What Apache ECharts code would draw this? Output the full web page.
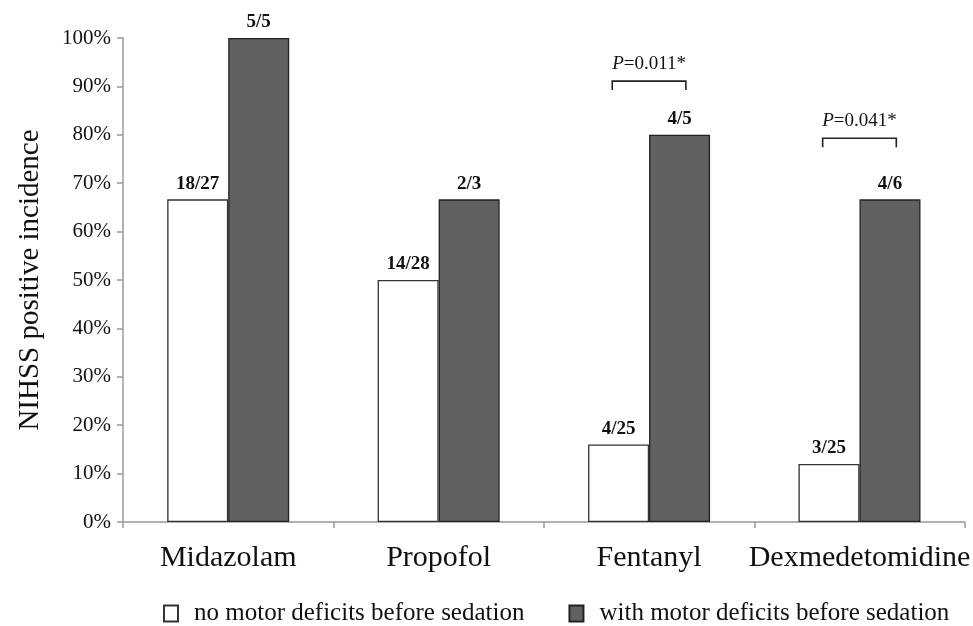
<!DOCTYPE html>
<html>
<head>
<meta charset="utf-8">
<script src="https://cdn.jsdelivr.net/npm/echarts@6/dist/echarts.min.js"></script>
<style>html,body{margin:0;padding:0;background:#fff;}#c{width:973px;height:626px;}</style>
</head>
<body>
<div id="c"></div>
<script>
const categories = ['Midazolam', 'Propofol', 'Fentanyl', 'Dexmedetomidine'];
const noDeficitPositive = [18, 14, 4, 3];
const noDeficitTotal = [27, 28, 25, 25];
const withDeficitPositive = [5, 2, 4, 4];
const withDeficitTotal = [5, 3, 5, 6];
const seriesNames = ['no motor deficits before sedation', 'with motor deficits before sedation'];
const yTicks = [0, 10, 20, 30, 40, 50, 60, 70, 80, 90, 100];
// significance annotations: category, bracket level (%), p-value text
const annCategory = [2, 3];
const annLevel = [91.1, 79.3];
const annText = ['0.011*', '0.041*'];

const FONT = '"Liberation Serif", "Times New Roman", serif';

const noDefVals = noDeficitPositive.map((p, i) => p / noDeficitTotal[i] * 100);
const withDefVals = withDeficitPositive.map((p, i) => p / withDeficitTotal[i] * 100);

const chart = echarts.init(document.getElementById('c'), null, {renderer: 'canvas'});

const labelStyle = {
  show: true, position: 'top', distance: 6,
  fontFamily: FONT, fontWeight: 'bold', fontSize: 19, color: '#111'
};

chart.setOption({
  animation: false,
  backgroundColor: '#fff',
  grid: {left: 123, top: 38, right: 6, bottom: 104, containLabel: false},
  legend: {
    data: seriesNames,
    top: 596, left: 158,
    itemWidth: 14, itemHeight: 16, itemGap: 44,
    icon: 'rect',
    textStyle: {fontFamily: FONT, fontSize: 25, color: '#111', padding: [0, 0, 0, 11]}
  },
  xAxis: {
    type: 'category',
    data: categories,
    axisLine: {lineStyle: {color: '#999', width: 1.5}},
    axisTick: {show: true, alignWithLabel: false, interval: 0, length: 6, lineStyle: {color: '#999', width: 1.5}},
    axisLabel: {fontFamily: FONT, fontSize: 30, color: '#111', margin: 21, interval: 0, hideOverlap: false}
  },
  yAxis: {
    type: 'value', min: 0, max: 100, interval: 10,
    name: 'NIHSS positive incidence',
    nameLocation: 'middle', nameGap: 78,
    nameTextStyle: {fontFamily: FONT, fontSize: 29, color: '#111'},
    axisLine: {show: true, lineStyle: {color: '#999', width: 1.5}},
    axisTick: {show: true, inside: false, length: 6, lineStyle: {color: '#999', width: 1.5}},
    splitLine: {show: false},
    axisLabel: {
      fontFamily: FONT, fontSize: 21, color: '#111', margin: 12,
      formatter: v => yTicks.indexOf(v) >= 0 ? v + '%' : ''
    }
  },
  series: [
    {
      name: seriesNames[0], type: 'bar', data: noDefVals,
      barWidth: 61, barGap: '0%',
      itemStyle: {color: '#ffffff', borderColor: '#333', borderWidth: 1.3},
      label: Object.assign({}, labelStyle, {
        formatter: p => noDeficitPositive[p.dataIndex] + '/' + noDeficitTotal[p.dataIndex]
      })
    },
    {
      name: seriesNames[1], type: 'bar', data: withDefVals,
      barWidth: 61, barGap: '0%',
      itemStyle: {color: '#616161', borderColor: '#222', borderWidth: 1.3},
      label: Object.assign({}, labelStyle, {
        formatter: p => withDeficitPositive[p.dataIndex] + '/' + withDeficitTotal[p.dataIndex]
      })
    },
    {
      name: 'annotations', type: 'custom', silent: true, clip: false, z: 10,
      data: annCategory.map((c, i) => [c, annLevel[i], i]),
      renderItem: function (params, api) {
        const c = api.coord([api.value(0), api.value(1)]);
        const bw = api.size([1, 0])[0];
        const half = bw * 0.175;
        const tick = 9;
        const idx = api.value(2);
        return {
          type: 'group',
          children: [
            {
              type: 'polyline',
              shape: {points: [[c[0] - half, c[1] + tick], [c[0] - half, c[1]], [c[0] + half, c[1]], [c[0] + half, c[1] + tick]]},
              style: {stroke: '#222', lineWidth: 1.6, fill: null}
            },
            {
              type: 'text',
              style: {
                x: c[0], y: c[1] - 8,
                text: '{i|P}=' + annText[idx],
                align: 'center', verticalAlign: 'bottom',
                fontFamily: FONT, fontSize: 19, fill: '#111',
                rich: {i: {fontStyle: 'italic', fontFamily: FONT, fontSize: 19, fill: '#111'}}
              }
            }
          ]
        };
      }
    }
  ]
});
</script>
</body>
</html>
